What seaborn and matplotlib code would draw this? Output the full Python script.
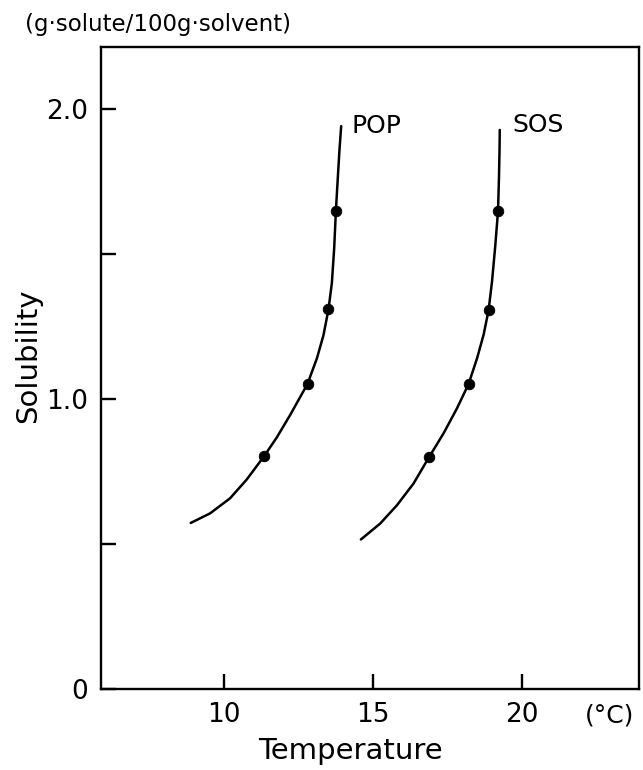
import numpy as np
import pandas as pd
import matplotlib
matplotlib.use("Agg")
import matplotlib.pyplot as plt
import seaborn as sns

# curve traces (temperature in degC, solubility in g/100g)
pop_curve_t = [8.876, 9.525, 10.198, 10.759, 11.34, 11.768, 12.215, 12.797, 13.113, 13.335,
               13.503, 13.617, 13.695, 13.752, 13.819, 13.873, 13.93]
pop_curve_s = [0.573, 0.606, 0.658, 0.723, 0.803, 0.868, 0.945, 1.052, 1.140, 1.220,
               1.309, 1.400, 1.520, 1.648, 1.767, 1.859, 1.941]
sos_curve_t = [14.592, 15.241, 15.803, 16.361, 16.889, 17.370, 17.820, 18.210, 18.493, 18.715,
               18.883, 18.997, 19.108, 19.199, 19.232, 19.250, 19.258]
sos_curve_s = [0.516, 0.571, 0.634, 0.709, 0.801, 0.882, 0.968, 1.052, 1.140, 1.222,
               1.307, 1.405, 1.530, 1.648, 1.767, 1.859, 1.928]

# measured points
pop_pts_t = [11.34, 12.80, 13.50, 13.75]
pop_pts_s = [0.803, 1.052, 1.309, 1.648]
sos_pts_t = [16.89, 18.21, 18.88, 19.20]
sos_pts_s = [0.801, 1.052, 1.307, 1.648]

x_ticks = [10, 15, 20]
y_ticks = [0, 0.5, 1.0, 1.5, 2.0]
y_tick_labels = ["0", "", "1.0", "", "2.0"]

curves = pd.concat([
    pd.DataFrame({"t": pop_curve_t, "s": pop_curve_s, "fat": "POP"}),
    pd.DataFrame({"t": sos_curve_t, "s": sos_curve_s, "fat": "SOS"}),
])
points = pd.concat([
    pd.DataFrame({"t": pop_pts_t, "s": pop_pts_s, "fat": "POP"}),
    pd.DataFrame({"t": sos_pts_t, "s": sos_pts_s, "fat": "SOS"}),
])

sns.set_style("ticks")
plt.rcParams["font.family"] = ["DejaVu Sans"]
plt.rcParams.update({"text.color": "black", "axes.labelcolor": "black",
                     "xtick.color": "black", "ytick.color": "black"})

fig = plt.figure(figsize=(6.43, 7.7), dpi=100)
ax = fig.add_axes([0.157, 0.105, 0.837, 0.834])

for fat, grp in curves.groupby("fat"):
    sns.lineplot(data=grp, x="t", y="s", sort=False, color="black", lw=1.8, ax=ax, legend=False,
                 solid_joinstyle="round", solid_capstyle="round")
sns.scatterplot(data=points, x="t", y="s", color="black", s=58, edgecolor="black", ax=ax,
                legend=False, zorder=3)

ax.text(14.29, 1.94, "POP", fontsize=18, va="center", ha="left")
ax.text(19.67, 1.945, "SOS", fontsize=18, va="center", ha="left")

ax.set_xlim(5.86, 23.94)
ax.set_ylim(0, 2.214)
ax.set_xticks(x_ticks)
ax.set_xticklabels([str(v) for v in x_ticks])
ax.set_yticks(y_ticks)
ax.set_yticklabels(y_tick_labels)
ax.tick_params(direction="in", length=11, width=1.7, labelsize=19, pad=9)
for sp in ax.spines.values():
    sp.set_linewidth(1.7)
    sp.set_color("black")

ax.set_xlabel("Temperature", fontsize=21)
ax.set_ylabel("Solubility", fontsize=21)
ax.xaxis.set_label_coords(0.463, -0.074)
ax.yaxis.set_label_coords(-0.11, 0.52)
fig.text(610, 770 - 716, "(°C)", fontsize=18, ha="center", va="center", transform=None)
fig.text(25, 770 - 25, "(g·solute/100g·solvent)", fontsize=16.5, ha="left", va="center", transform=None)

fig.savefig("out.png", dpi=100)
